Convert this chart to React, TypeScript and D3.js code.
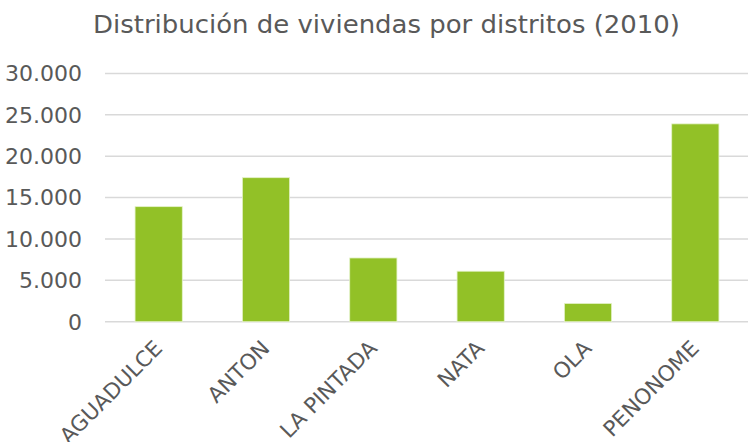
import React, { useEffect, useRef } from 'react';
import * as d3 from 'd3';

const distritos = ['AGUADULCE', 'ANTON', 'LA PINTADA', 'NATA', 'OLA', 'PENONOME'];
const viviendas = [13900, 17400, 7700, 6100, 2200, 23900];
const yTicks = [0, 5000, 10000, 15000, 20000, 25000, 30000];

const App = () => {
  const ref = useRef<SVGSVGElement>(null);

  useEffect(() => {
    if (!ref.current) return;
    const svg = d3.select(ref.current);
    svg.selectAll('*').remove();

    const font = "'DejaVu Sans', sans-serif";
    const left = 105, right = 749, top = 73.4, bottom = 321.7;

    const x = d3.scaleBand().domain(distritos).range([left, right]).paddingInner(0.56).paddingOuter(0.28);
    const y = d3.scaleLinear().domain([0, 30000]).range([bottom, top]);

    svg.append('text')
      .attr('x', 93).attr('y', 33)
      .attr('textLength', 587).attr('lengthAdjust', 'spacingAndGlyphs')
      .attr('font-family', font).attr('font-size', 24.5)
      .attr('fill', '#595959')
      .text('Distribución de viviendas por distritos (2010)');

    // gridlines
    svg.append('g').selectAll('line')
      .data(yTicks).enter().append('line')
      .attr('x1', left).attr('x2', right)
      .attr('y1', d => y(d)).attr('y2', d => y(d))
      .attr('stroke', '#d9d9d9').attr('stroke-width', 1.5);

    // y labels
    svg.append('g').selectAll('text')
      .data(yTicks).enter().append('text')
      .attr('x', 82).attr('y', d => y(d))
      .attr('dy', '0.36em')
      .attr('text-anchor', 'end')
      .attr('font-family', font).attr('font-size', 22)
      .attr('fill', '#595959')
      .text(d => d3.format(',')(d).replace(/,/g, '.'));

    // bars
    svg.append('g').selectAll('rect')
      .data(distritos).enter().append('rect')
      .attr('x', d => x(d)!)
      .attr('width', x.bandwidth())
      .attr('y', (d, i) => y(viviendas[i]))
      .attr('height', (d, i) => y(0) - y(viviendas[i]))
      .attr('fill', '#92c127')
      .attr('stroke', '#e4f2c8').attr('stroke-width', 0.8);

    // x labels, rotated
    svg.append('g').selectAll('text')
      .data(distritos).enter().append('text')
      .attr('transform', d => `translate(${x(d)! + x.bandwidth() / 2 + 5},${bottom + 28}) rotate(-45)`)
      .attr('text-anchor', 'end')
      .attr('font-family', font).attr('font-size', 21.5)
      .attr('fill', '#595959')
      .text(d => d);
  }, []);

  return <svg ref={ref} width={748} height={442} style={{ position: 'absolute', left: 0, top: 0 }} />;
};

export default App;
